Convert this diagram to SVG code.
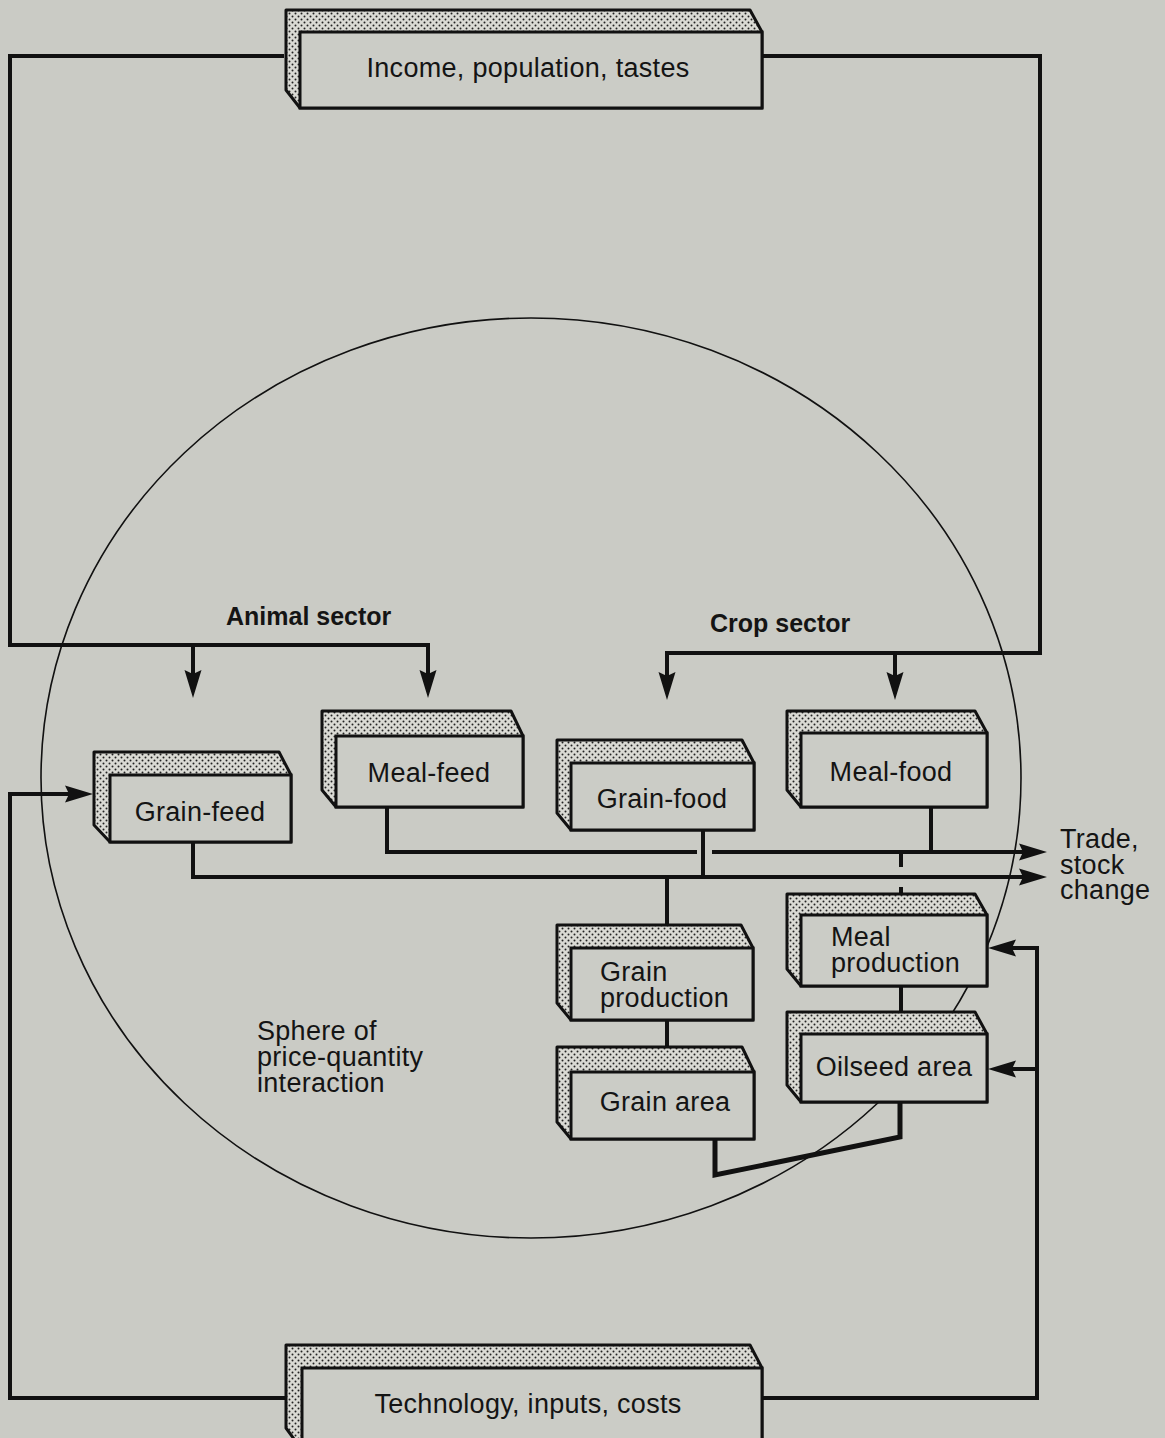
<svg xmlns="http://www.w3.org/2000/svg" width="1165" height="1438" viewBox="0 0 1165 1438">
<style>
.bg{fill:#cacbc5}
.sh{fill:url(#dots);stroke:#111;stroke-width:3;stroke-linejoin:round}
.fr{fill:#cbccc6;stroke:#111;stroke-width:3}
.t{font-family:"Liberation Sans",Arial,Helvetica,sans-serif;font-size:27px;letter-spacing:0.3px;fill:#141414}
.b{font-family:"Liberation Sans",Arial,Helvetica,sans-serif;font-size:25px;font-weight:bold;fill:#141414}
.ln{fill:none;stroke:#111;stroke-width:4;stroke-linejoin:miter}
.thick{fill:none;stroke:#111;stroke-width:5;stroke-linejoin:miter}
.arr{marker-end:url(#ah)}
</style>
<defs>
<pattern id="dots" width="6" height="6" patternUnits="userSpaceOnUse">
<rect width="6" height="6" fill="#dadad4"/>
<circle cx="1.5" cy="1.5" r="1" fill="#222"/>
<circle cx="4.5" cy="4.5" r="1" fill="#222"/>
</pattern>
<marker id="ah" markerUnits="userSpaceOnUse" markerWidth="40" markerHeight="30" refX="8" refY="10" orient="auto" overflow="visible">
<path d="M0,1.5 L28,10 L0,18.5 L4,10 Z" fill="#111"/>
</marker>
</defs>
<rect class="bg" x="0" y="0" width="1165" height="1438"/>
<ellipse cx="531" cy="778" rx="490" ry="460" fill="none" stroke="#111" stroke-width="1.6"/>

<g id="connectors">
<path class="ln" d="M284,56 H10 V645 H428 V678"/>
<path class="ln arr" d="M428,660 V678"/>
<path class="ln arr" d="M193,645 V678"/>
<path class="ln" d="M762,56 H1040 V653 H667 V680"/>
<path class="ln arr" d="M667,660 V680"/>
<path class="ln arr" d="M895,653 V680"/>
<path class="ln" d="M387,807 V852 H697"/>
<path class="ln arr" d="M712,852 H1027"/>
<path class="ln" d="M931,807 V852"/>
<path class="ln" d="M901,852 V867"/>
<path class="ln" d="M901,887 V894"/>
<path class="ln arr" d="M193,842 V877 H1027"/>
<path class="ln" d="M703,830 V877"/>
<path class="ln" d="M667,877 V925"/>
<path class="ln" d="M667,1020 V1047"/>
<path class="ln" d="M901,986 V1012"/>
<path class="thick" d="M715,1139 V1175 L900,1137 V1102"/>
<path class="ln arr" d="M285,1398 H10 V794 H73"/>
<path class="ln arr" d="M762,1398 H1037 V948 H1008"/>
<path class="ln arr" d="M1037,1069 H1008"/>
</g>

<g id="income">
<polygon class="sh" points="286,10 750,10 762,32 762,108 300,108 286,90"/>
<rect class="fr" x="300" y="32" width="462" height="76"/>
<text class="t" x="528" y="77" text-anchor="middle" font-size="28">Income, population, tastes</text>
</g>

<g id="grain-feed">
<polygon class="sh" points="94,752 279,752 291,775 291,842 110,842 94,825"/>
<rect class="fr" x="110" y="775" width="181" height="67"/>
<text class="t" x="200" y="821" text-anchor="middle">Grain-feed</text>
</g>

<g id="meal-feed">
<polygon class="sh" points="322,711 511,711 523,736 523,807 336,807 322,790"/>
<rect class="fr" x="336" y="736" width="187" height="71"/>
<text class="t" x="429" y="782" text-anchor="middle">Meal-feed</text>
</g>

<g id="grain-food">
<polygon class="sh" points="557,740 742,740 754,763 754,830 571,830 557,813"/>
<rect class="fr" x="571" y="763" width="183" height="67"/>
<text class="t" x="662" y="808" text-anchor="middle">Grain-food</text>
</g>

<g id="meal-food">
<polygon class="sh" points="787,711 975,711 987,733 987,807 801,807 787,790"/>
<rect class="fr" x="801" y="733" width="186" height="74"/>
<text class="t" x="891" y="781" text-anchor="middle">Meal-food</text>
</g>

<g id="grain-production">
<polygon class="sh" points="557,925 741,925 753,948 753,1020 571,1020 557,1003"/>
<rect class="fr" x="571" y="948" width="182" height="72"/>
<text class="t" x="600" y="981">Grain<tspan x="600" dy="26">production</tspan></text>
</g>

<g id="meal-production">
<polygon class="sh" points="787,894 975,894 987,915 987,986 801,986 787,969"/>
<rect class="fr" x="801" y="915" width="186" height="71"/>
<text class="t" x="831" y="946">Meal<tspan x="831" dy="26">production</tspan></text>
</g>

<g id="grain-area">
<polygon class="sh" points="557,1047 742,1047 754,1072 754,1139 571,1139 557,1122"/>
<rect class="fr" x="571" y="1072" width="183" height="67"/>
<text class="t" x="665" y="1111" text-anchor="middle">Grain area</text>
</g>

<g id="oilseed-area">
<polygon class="sh" points="787,1012 975,1012 987,1034 987,1102 801,1102 787,1085"/>
<rect class="fr" x="801" y="1034" width="186" height="68"/>
<text class="t" x="894" y="1076" text-anchor="middle">Oilseed area</text>
</g>

<g id="technology">
<polygon class="sh" points="286,1345 750,1345 762,1368 762,1450 302,1450 286,1428"/>
<rect class="fr" x="302" y="1368" width="460" height="82"/>
<text class="t" x="528" y="1413" text-anchor="middle" font-size="28">Technology, inputs, costs</text>
</g>

<g id="labels">
<text class="b" x="226" y="625">Animal sector</text>
<text class="b" x="710" y="632">Crop sector</text>
<text class="t" x="1060" y="848">Trade,<tspan x="1060" dy="26">stock</tspan><tspan x="1060" dy="25">change</tspan></text>
<text class="t" x="257" y="1040">Sphere of<tspan x="257" dy="26">price-quantity</tspan><tspan x="257" dy="26">interaction</tspan></text>
</g>
</svg>
